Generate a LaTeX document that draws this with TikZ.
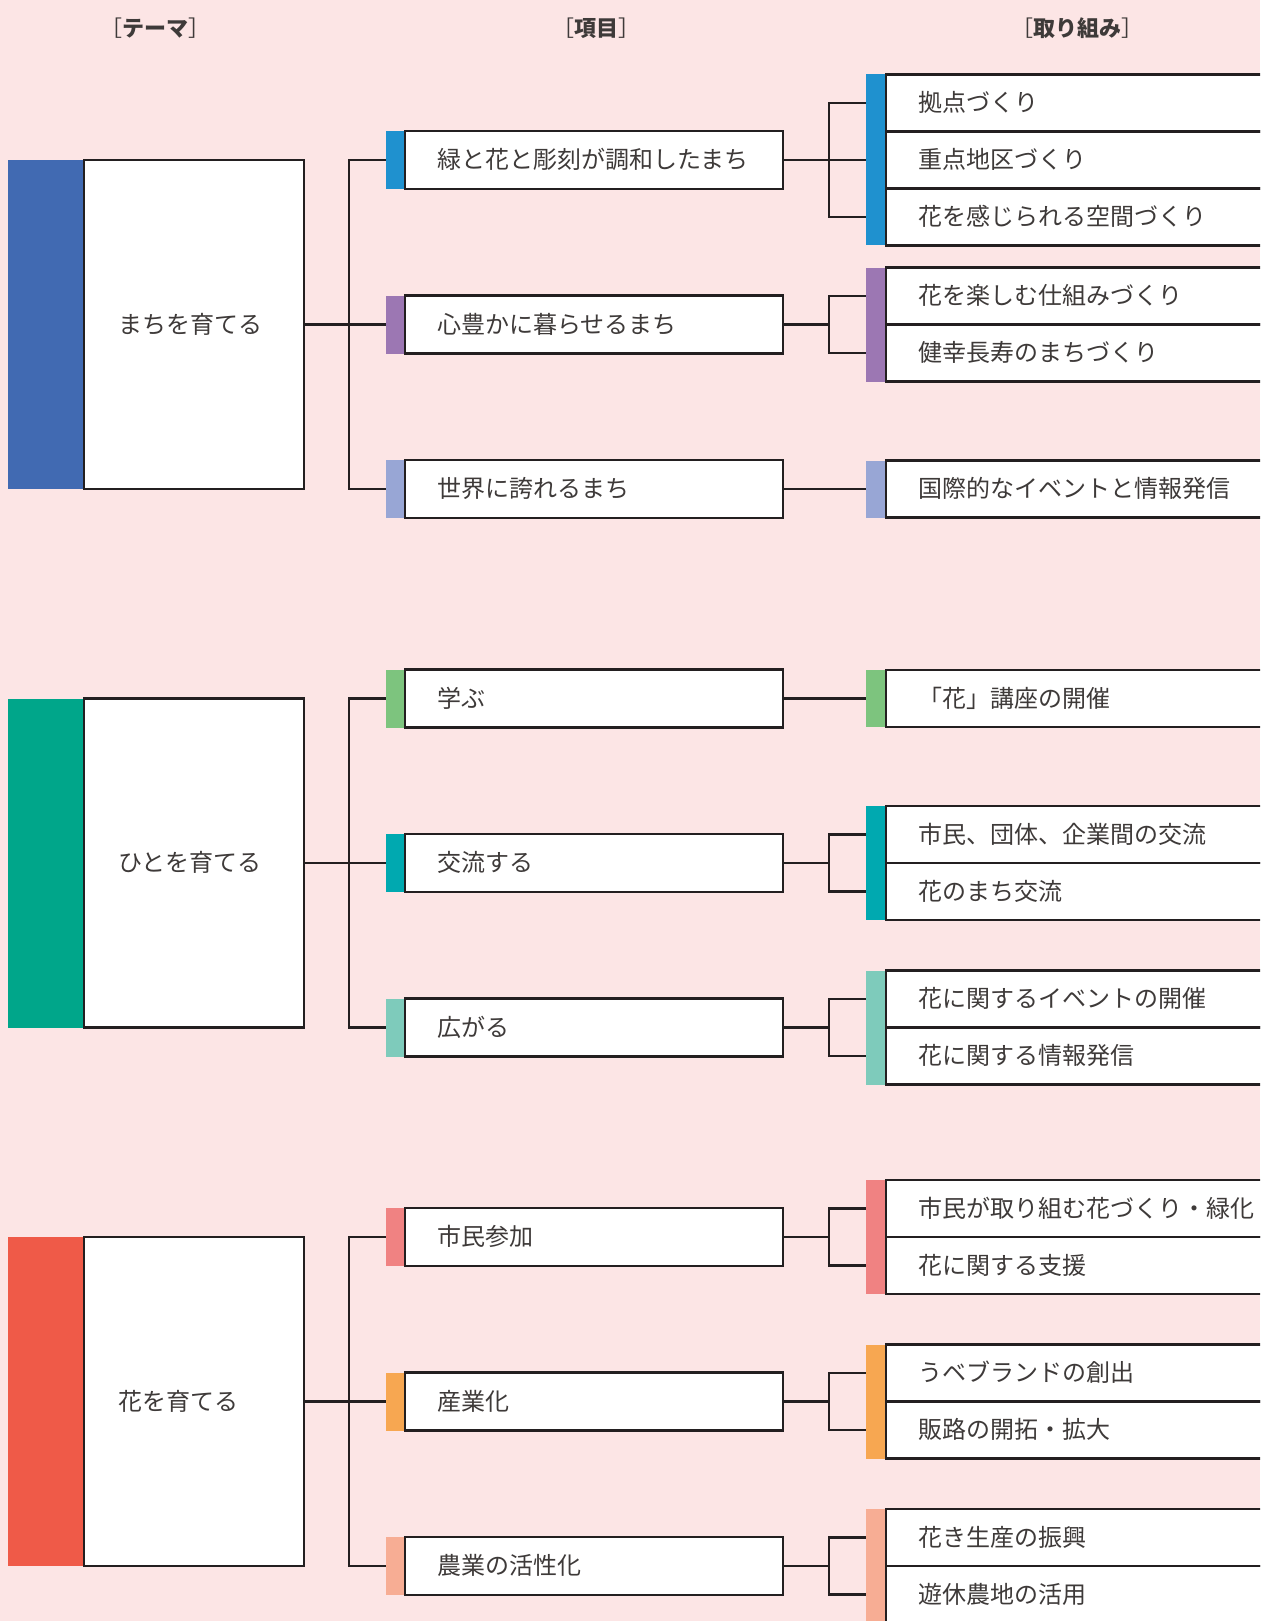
\documentclass[tikz,border=0pt]{standalone}
\usepackage{fontspec}
\setmainfont{Noto Sans CJK JP}
\usetikzlibrary{positioning}

\definecolor{bgpink}{HTML}{FCE5E5}
\definecolor{linecol}{HTML}{231F20}
\definecolor{textcol}{HTML}{3E3A39}
\definecolor{tcolA}{HTML}{416AB2}
\definecolor{tcolB}{HTML}{00A68A}
\definecolor{tcolC}{HTML}{EF5A48}
\definecolor{icolAa}{HTML}{1F91CF}
\definecolor{icolAb}{HTML}{9C77B3}
\definecolor{icolAc}{HTML}{98A6D5}
\definecolor{icolBa}{HTML}{7DC47E}
\definecolor{icolBb}{HTML}{00A9B0}
\definecolor{icolBc}{HTML}{7ECBBB}
\definecolor{icolCa}{HTML}{F08282}
\definecolor{icolCb}{HTML}{F7A751}
\definecolor{icolCc}{HTML}{F7AD94}

\tikzset{
  box/.style={draw=linecol, line width=2.2pt, fill=white, outer sep=0pt,
    inner ysep=0pt, text height=19.4pt, text depth=1.7pt, align=left,
    font=\fontsize{24}{28}\selectfont, text=textcol},
  themebox/.style={box, minimum height=329pt, inner xsep=34pt, text width=152pt},
  itembox/.style={box, minimum height=58pt, inner xsep=32pt, text width=314pt},
  actbox/.style={box, minimum height=57pt, inner xsep=32pt, text width=356pt},
  themebar/.style={fill=#1, minimum width=75pt, minimum height=329pt, inner sep=0pt, outer sep=0pt},
  itembar/.style={fill=#1, minimum width=18pt, minimum height=58pt, inner sep=0pt, outer sep=0pt},
  actbar/.style={fill=#1, minimum width=19pt, minimum height=57pt, inner sep=0pt, outer sep=0pt},
  link/.style={draw=linecol, line width=2.2pt},
  head/.style={font=\fontsize{22}{26}\selectfont, text=textcol}
}

\begin{document}
\begin{tikzpicture}[x=1pt, y=-1pt]
        \useasboundingbox (0,0) rectangle (1260,1621);
        \clip (0,0) rectangle (1260,1621);
        \fill[bgpink] (0,0) rectangle (1260,1621);

        % Headings
        \node[head] (h1) at (155,28) {［\textbf{テーマ}］};
        \node[head] (h2) at (596,28) {［\textbf{項目}］};
        \node[head] (h3) at (1077,28) {［\textbf{取り組み}］};

        % Theme 1
        \node[themebox] (t1) at (194,324.5) {まちを育てる};
        \node[themebar=tcolA, left=1.1pt of t1] (tb1) {};
        \node[itembox] (i11) at (594,160) {緑と花と彫刻が調和したまち};
        \node[itembar=icolAa, left=1.1pt of i11] (ib11) {};
        \node[itembox] (i12) at (594,324.5) {心豊かに暮らせるまち};
        \node[itembar=icolAb, left=1.1pt of i12] (ib12) {};
        \node[itembox] (i13) at (594,489) {世界に誇れるまち};
        \node[itembar=icolAc, left=1.1pt of i13] (ib13) {};
        \node[actbox] (a111) at (1096,103) {拠点づくり};
        \node[actbox] (a112) at (1096,160) {重点地区づくり};
        \node[actbox] (a113) at (1096,217) {花を感じられる空間づくり};
        \node[actbar=icolAa, left=1.1pt of a111] (ab111) {};
        \node[actbar=icolAa, left=1.1pt of a112] (ab112) {};
        \node[actbar=icolAa, left=1.1pt of a113] (ab113) {};
        \node[actbox] (a121) at (1096,296) {花を楽しむ仕組みづくり};
        \node[actbox] (a122) at (1096,353) {健幸長寿のまちづくり};
        \node[actbar=icolAb, left=1.1pt of a121] (ab121) {};
        \node[actbar=icolAb, left=1.1pt of a122] (ab122) {};
        \node[actbox] (a131) at (1096,489) {国際的なイベントと情報発信};
        \node[actbar=icolAc, left=1.1pt of a131] (ab131) {};
        \coordinate (j1) at (349,324.5);
        \coordinate (k11) at (829,160);
        \coordinate (k12) at (829,324.5);
        \draw[link] (t1.east) -- (j1);
        \draw[link] (ib11.west) -| (j1) |- (ib13.west);
        \draw[link] (j1) -- (ib12.west);
        \draw[link] (i11.east) -- (k11);
        \draw[link] (ab111.west) -| (k11) |- (ab113.west);
        \draw[link] (k11) -- (ab112.west);
        \draw[link] (i12.east) -- (k12);
        \draw[link] (ab121.west) -| (k12) |- (ab122.west);
        \draw[link] (i13.east) -- (ab131.west);

        % Theme 2
        \node[themebox] (t2) at (194,863) {ひとを育てる};
        \node[themebar=tcolB, left=1.1pt of t2] (tb2) {};
        \node[itembox] (i21) at (594,698.5) {学ぶ};
        \node[itembar=icolBa, left=1.1pt of i21] (ib21) {};
        \node[itembox] (i22) at (594,863) {交流する};
        \node[itembar=icolBb, left=1.1pt of i22] (ib22) {};
        \node[itembox] (i23) at (594,1027.5) {広がる};
        \node[itembar=icolBc, left=1.1pt of i23] (ib23) {};
        \node[actbox] (a211) at (1096,698.5) {「花」講座の開催};
        \node[actbar=icolBa, left=1.1pt of a211] (ab211) {};
        \node[actbox] (a221) at (1096,834.5) {市民、団体、企業間の交流};
        \node[actbox] (a222) at (1096,891.5) {花のまち交流};
        \node[actbar=icolBb, left=1.1pt of a221] (ab221) {};
        \node[actbar=icolBb, left=1.1pt of a222] (ab222) {};
        \node[actbox] (a231) at (1096,999) {花に関するイベントの開催};
        \node[actbox] (a232) at (1096,1056) {花に関する情報発信};
        \node[actbar=icolBc, left=1.1pt of a231] (ab231) {};
        \node[actbar=icolBc, left=1.1pt of a232] (ab232) {};
        \coordinate (j2) at (349,863);
        \coordinate (k22) at (829,863);
        \coordinate (k23) at (829,1027.5);
        \draw[link] (t2.east) -- (j2);
        \draw[link] (ib21.west) -| (j2) |- (ib23.west);
        \draw[link] (j2) -- (ib22.west);
        \draw[link] (i21.east) -- (ab211.west);
        \draw[link] (i22.east) -- (k22);
        \draw[link] (ab221.west) -| (k22) |- (ab222.west);
        \draw[link] (i23.east) -- (k23);
        \draw[link] (ab231.west) -| (k23) |- (ab232.west);

        % Theme 3
        \node[themebox] (t3) at (194,1401.5) {花を育てる};
        \node[themebar=tcolC, left=1.1pt of t3] (tb3) {};
        \node[itembox] (i31) at (594,1237) {市民参加};
        \node[itembar=icolCa, left=1.1pt of i31] (ib31) {};
        \node[itembox] (i32) at (594,1401.5) {産業化};
        \node[itembar=icolCb, left=1.1pt of i32] (ib32) {};
        \node[itembox] (i33) at (594,1566) {農業の活性化};
        \node[itembar=icolCc, left=1.1pt of i33] (ib33) {};
        \node[actbox] (a311) at (1096,1208.5) {市民が取り組む花づくり・緑化};
        \node[actbox] (a312) at (1096,1265.5) {花に関する支援};
        \node[actbar=icolCa, left=1.1pt of a311] (ab311) {};
        \node[actbar=icolCa, left=1.1pt of a312] (ab312) {};
        \node[actbox] (a321) at (1096,1373) {うベブランドの創出};
        \node[actbox] (a322) at (1096,1430) {販路の開拓・拡大};
        \node[actbar=icolCb, left=1.1pt of a321] (ab321) {};
        \node[actbar=icolCb, left=1.1pt of a322] (ab322) {};
        \node[actbox] (a331) at (1096,1537.5) {花き生産の振興};
        \node[actbox] (a332) at (1096,1594.5) {遊休農地の活用};
        \node[actbar=icolCc, left=1.1pt of a331] (ab331) {};
        \node[actbar=icolCc, left=1.1pt of a332] (ab332) {};
        \coordinate (j3) at (349,1401.5);
        \coordinate (k31) at (829,1237);
        \coordinate (k32) at (829,1401.5);
        \coordinate (k33) at (829,1566);
        \draw[link] (t3.east) -- (j3);
        \draw[link] (ib31.west) -| (j3) |- (ib33.west);
        \draw[link] (j3) -- (ib32.west);
        \draw[link] (i31.east) -- (k31);
        \draw[link] (ab311.west) -| (k31) |- (ab312.west);
        \draw[link] (i32.east) -- (k32);
        \draw[link] (ab321.west) -| (k32) |- (ab322.west);
        \draw[link] (i33.east) -- (k33);
        \draw[link] (ab331.west) -| (k33) |- (ab332.west);
    \end{tikzpicture}
\end{document}
